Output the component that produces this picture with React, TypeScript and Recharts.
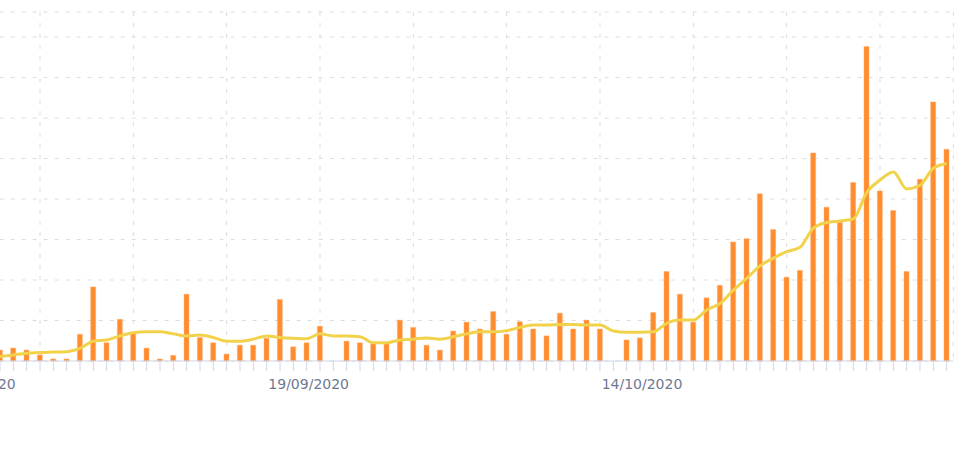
import { ComposedChart, Bar, Line, XAxis, YAxis, CartesianGrid } from 'recharts';

// one category per day, 25/08 -> 06/11/2020 (first two days fall left of the crop)
const days = [
  '25/08/2020', '26/08/2020', '27/08/2020', '28/08/2020', '29/08/2020', '30/08/2020', '31/08/2020',
  '01/09/2020', '02/09/2020', '03/09/2020', '04/09/2020', '05/09/2020', '06/09/2020', '07/09/2020',
  '08/09/2020', '09/09/2020', '10/09/2020', '11/09/2020', '12/09/2020', '13/09/2020', '14/09/2020',
  '15/09/2020', '16/09/2020', '17/09/2020', '18/09/2020', '19/09/2020', '20/09/2020', '21/09/2020',
  '22/09/2020', '23/09/2020', '24/09/2020', '25/09/2020', '26/09/2020', '27/09/2020', '28/09/2020',
  '29/09/2020', '30/09/2020', '01/10/2020', '02/10/2020', '03/10/2020', '04/10/2020', '05/10/2020',
  '06/10/2020', '07/10/2020', '08/10/2020', '09/10/2020', '10/10/2020', '11/10/2020', '12/10/2020',
  '13/10/2020', '14/10/2020', '15/10/2020', '16/10/2020', '17/10/2020', '18/10/2020', '19/10/2020',
  '20/10/2020', '21/10/2020', '22/10/2020', '23/10/2020', '24/10/2020', '25/10/2020', '26/10/2020',
  '27/10/2020', '28/10/2020', '29/10/2020', '30/10/2020', '31/10/2020', '01/11/2020', '02/11/2020',
  '03/11/2020', '04/11/2020', '05/11/2020', '06/11/2020',
];

const daily = [
  null, null,
  27, 32, 27, 15, 5, 5, 66, 183, 45, 103, 69, 32, 5, 14, 165, 58, 45, 17, 39, 39, 56, 152, 35, 45,
  86, 0, 49, 45, 42, 42, 101, 83, 39, 27, 74, 96, 79, 122, 66, 97, 79, 62, 118, 79, 101, 79, 0, 52,
  57, 120, 221, 165, 96, 156, 187, 294, 302, 413, 325, 207, 224, 514, 380, 343, 441, 777, 420, 372,
  221, 449, 640, 523,
];

const average = [
  null, null,
  11, 15, 19, 21, 22, 23, 31, 49, 52, 62, 70, 72, 72, 67, 62, 64, 58, 49, 49, 54, 62, 58, 56, 55,
  67, 62, 62, 60, 45, 45, 52, 54, 57, 54, 60, 67, 72, 72, 75, 83, 89, 89, 90, 90, 89, 89, 74, 71,
  71, 72, 93, 101, 101, 126, 142, 175, 204, 235, 254, 270, 281, 328, 342, 346, 351, 416, 447, 467,
  425, 434, 476, 488,
];

const labelTicks = ['25/08/2020', '19/09/2020', '14/10/2020'];
const weekTicks = [
  '30/08/2020', '06/09/2020', '13/09/2020', '20/09/2020', '27/09/2020',
  '04/10/2020', '11/10/2020', '18/10/2020', '25/10/2020', '01/11/2020',
];
const yTicks = [0, 100, 200, 300, 400, 500, 600, 700, 800];

const data = days.map((d, i) => ({ day: d, daily: daily[i], average: average[i] }));

export default function App() {
  return (
    <div style={{ position: 'absolute', left: 0, top: 0, width: 980, height: 450, overflow: 'hidden', background: '#fff' }}>
      <div style={{ marginLeft: -40 }}>
        <ComposedChart
          width={1020}
          height={450}
          data={data}
          margin={{ top: 12, right: 26.67, left: 6.67, bottom: 49 }}
        >
          <CartesianGrid xAxisId="week" stroke="#dcdcdc" strokeDasharray="4 7" />
          <XAxis
            dataKey="day"
            interval={0}
            height={40}
            tickSize={10}
            tickMargin={8}
            axisLine={{ stroke: '#ccd6eb' }}
            tickLine={{ stroke: '#ccd6eb' }}
            tickFormatter={(v: string) => (labelTicks.includes(v) ? v : '')}
            tick={{ fill: '#6f7891', fontSize: 14, fontFamily: 'DejaVu Sans', dx: 2 }}
          />
          <XAxis xAxisId="week" dataKey="day" ticks={weekTicks} interval={0} hide />
          <YAxis hide domain={[0, 862]} ticks={yTicks} />
          <Bar dataKey="daily" fill="#ff8c2e" stroke="#ffb070" strokeWidth={0.5} barSize={5} isAnimationActive={false} />
          <Line
            type="monotone"
            dataKey="average"
            stroke="#f2d24a"
            strokeWidth={3}
            dot={false}
            isAnimationActive={false}
          />
        </ComposedChart>
      </div>
    </div>
  );
}
